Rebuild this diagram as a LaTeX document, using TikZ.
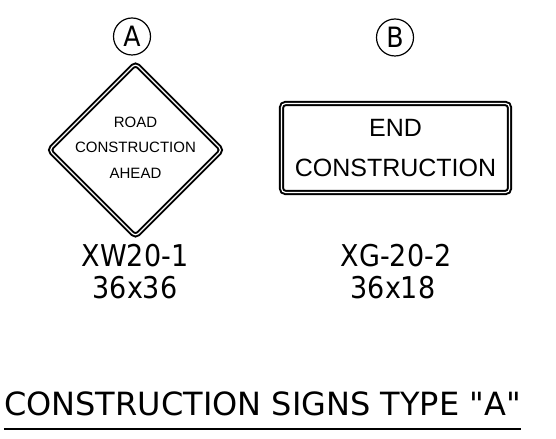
\documentclass[tikz,border=0pt]{standalone}
\usepackage{fontspec}
\setmainfont{DejaVu Sans Condensed}
\newfontfamily\signfont{Liberation Sans}
\newfontfamily\titlefont{DejaVu Sans}
\usetikzlibrary{calc, positioning}
\tikzset{
    markCircle/.style={circle, draw, line width=1.2bp, minimum size=37bp, inner sep=0pt, font=\fontsize{28bp}{28bp}\selectfont},
    signBorder/.style={draw, double, line width=2bp, double distance=1.2bp, rounded corners=4bp},
    signText/.style={align=center, inner sep=0pt, font=\signfont\fontsize{15bp}{25.5bp}\selectfont},
    codeText/.style={anchor=base, inner sep=0pt, font=\fontsize{30bp}{30bp}\selectfont},
    titleText/.style={anchor=base, inner sep=0pt, font=\titlefont\fontsize{32bp}{32bp}\selectfont},
}
\newcommand{\signCode}[5]{
    \node[codeText] (#1code) at (#2, 267) {#4};
    \node[codeText] (#1size) at (#3, 298) {#5};
}

\begin{document}
\begin{tikzpicture}[x=1bp, y=-1bp]
    \useasboundingbox (0,0) rectangle (556,439);

    % sign A
    \node[markCircle] (markA) at (132, 36.5) {A};
    \coordinate (diamA) at (135.5, 150);
    \draw[signBorder] (diamA) ++(0,-86.5) -- ++(86.5,86.5) -- ++(-86.5,86.5) -- ++(-86.5,-86.5) -- cycle;
    \node[signText, yshift=2.5bp] (signA) at (diamA) {ROAD\\CONSTRUCTION\\AHEAD};
    \signCode{A}{135}{135}{XW20-1}{36x36}

    % sign B
    \node[markCircle] (markB) at (395, 37.5) {B};
    \node[signBorder, minimum width=228bp, minimum height=89bp, align=center, inner sep=0pt,
          font=\signfont\fontsize{25bp}{40bp}\selectfont, yshift=-1bp] (signB) at (395.5, 147) {END\\CONSTRUCTION};
    \signCode{B}{396}{393}{XG-20-2}{36x18}

    % title
    \node[titleText] (title) at (262.5, 415) {CONSTRUCTION SIGNS TYPE \textquotedbl A\textquotedbl};
    \draw[line width=2bp] ($(title.base west)+(0,14)$) -- ($(title.base east)+(0,14)$);
\end{tikzpicture}
\end{document}
